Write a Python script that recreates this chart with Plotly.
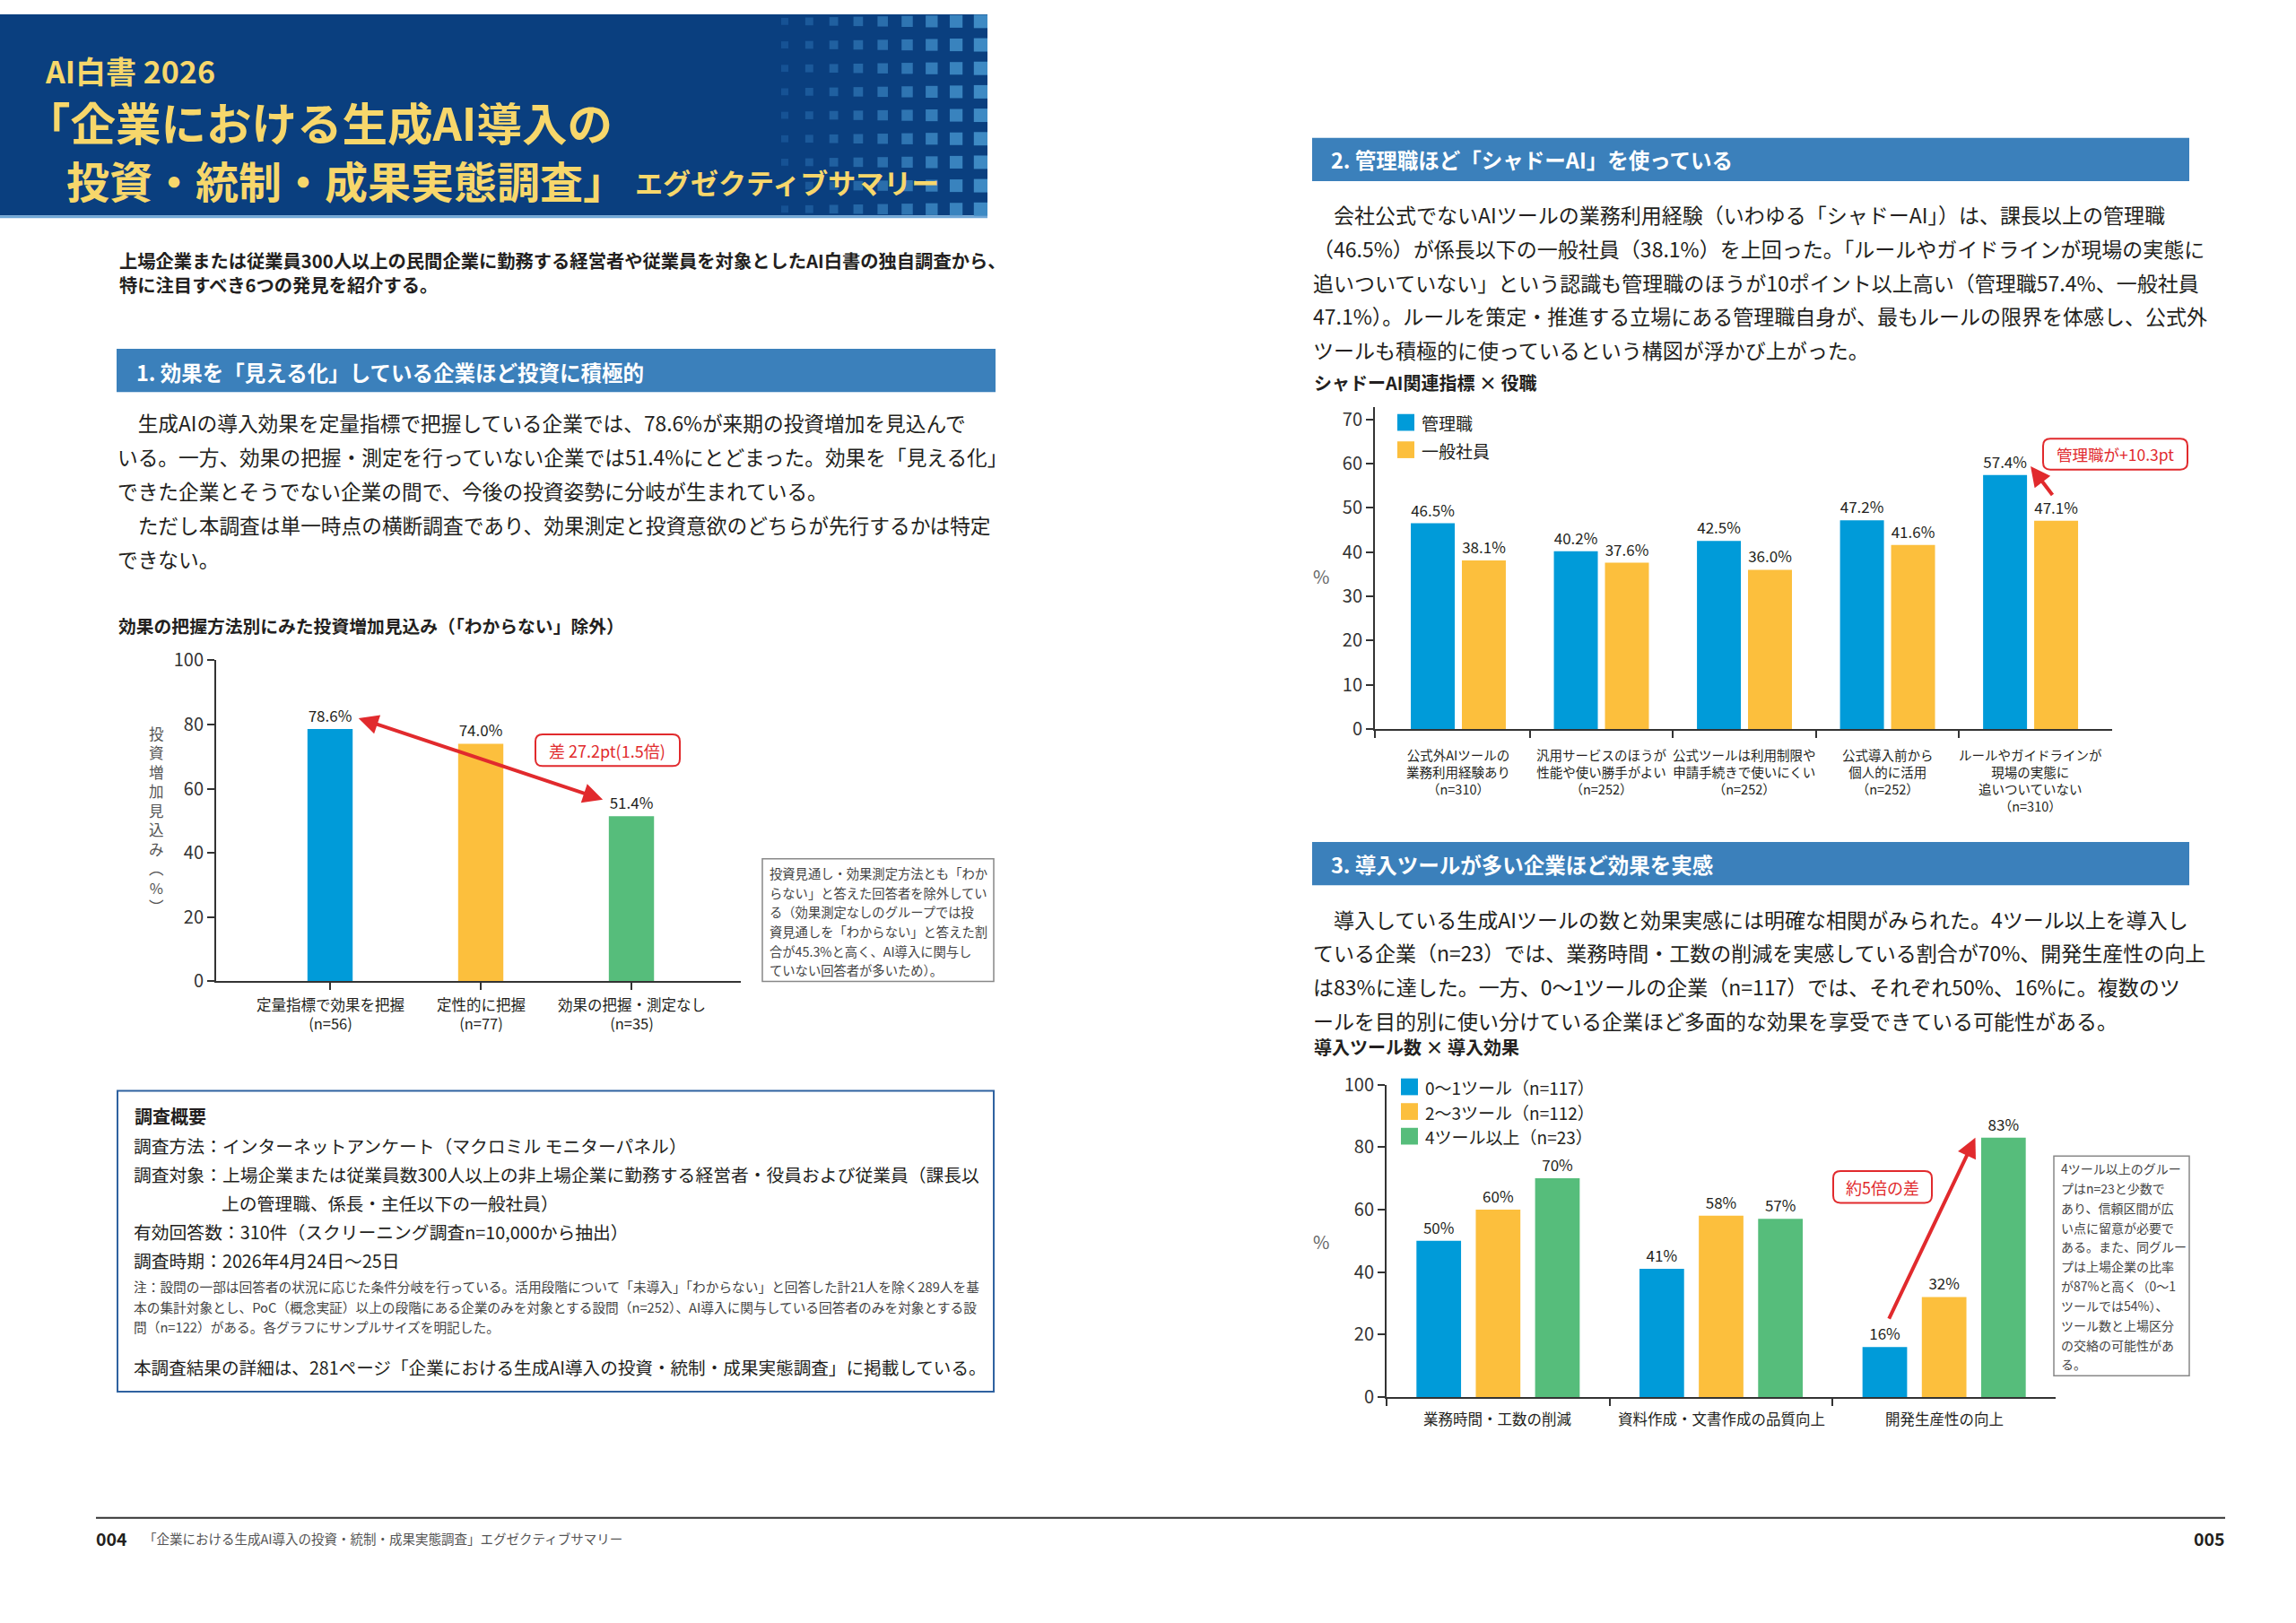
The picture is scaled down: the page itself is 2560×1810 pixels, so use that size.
import plotly.graph_objects as go

W, H = 2560, 1810
FONT = "Noto Sans CJK JP"

NAVY = "#0a3f7f"
HEAD_BAR = "#3b80bb"
TITLE_YELLOW = "#f7d76b"
C_BLUE = "#009bd9"
C_YELLOW = "#fcbf3d"
C_GREEN = "#56bd7b"
C_RED = "#e12a2d"
TXT = "#231f20"

# ---- chart 1: 効果の把握方法別にみた投資増加見込み
c1_labels = ["定量指標で効果を把握", "定性的に把握", "効果の把握・測定なし"]
c1_n = [56, 77, 35]
c1_values = [78.6, 74.0, 51.4]

# ---- chart 2: シャドーAI関連指標 × 役職
c2_labels = [
    "公式外AIツールの<br>業務利用経験あり",
    "汎用サービスのほうが<br>性能や使い勝手がよい",
    "公式ツールは利用制限や<br>申請手続きで使いにくい",
    "公式導入前から<br>個人的に活用",
    "ルールやガイドラインが<br>現場の実態に<br>追いついていない",
]
c2_n = [310, 252, 252, 252, 310]
c2_series = ["管理職", "一般社員"]
c2_manager = [46.5, 40.2, 42.5, 47.2, 57.4]
c2_staff = [38.1, 37.6, 36.0, 41.6, 47.1]

# ---- chart 3: 導入ツール数 × 導入効果
c3_labels = ["業務時間・工数の削減", "資料作成・文書作成の品質向上", "開発生産性の向上"]
c3_series = ["0～1ツール（n=117）", "2～3ツール（n=112）", "4ツール以上（n=23）"]
c3_tools01 = [50, 41, 16]
c3_tools23 = [60, 58, 32]
c3_tools4 = [70, 57, 83]


def X(px):
    return px / W


def Y(py):
    return 1 - py / H


shapes = []
annots = []


def rect(x0, y0, x1, y1, fill=None, line=None, lw=0, layer="below"):
    shapes.append(dict(type="rect", xref="paper", yref="paper",
                       x0=X(x0), x1=X(x1), y0=Y(y1), y1=Y(y0),
                       fillcolor=fill or "rgba(0,0,0,0)",
                       line=dict(color=line or "rgba(0,0,0,0)", width=lw),
                       layer=layer))


def rrect(x0, y0, x1, y1, r, line, lw=2):
    p = (f"M {X(x0 + r)},{Y(y0)} L {X(x1 - r)},{Y(y0)} Q {X(x1)},{Y(y0)} {X(x1)},{Y(y0 + r)} "
         f"L {X(x1)},{Y(y1 - r)} Q {X(x1)},{Y(y1)} {X(x1 - r)},{Y(y1)} "
         f"L {X(x0 + r)},{Y(y1)} Q {X(x0)},{Y(y1)} {X(x0)},{Y(y1 - r)} "
         f"L {X(x0)},{Y(y0 + r)} Q {X(x0)},{Y(y0)} {X(x0 + r)},{Y(y0)} Z")
    shapes.append(dict(type="path", xref="paper", yref="paper", path=p,
                       fillcolor="white", line=dict(color=line, width=lw), layer="above"))


def text(x, y, s, size, color=TXT, bold=False, anchor="left", yanchor="middle"):
    annots.append(dict(xref="paper", yref="paper", x=X(x), y=Y(y),
                       text=f"<b>{s}</b>" if bold else s, showarrow=False,
                       xanchor=anchor, yanchor=yanchor, align="left",
                       font=dict(size=size, color=color, family=FONT)))


def lines(items, x, y0, pitch, size, color=TXT, bold=False):
    for i, s in enumerate(items):
        text(x, y0 + i * pitch, s, size, color, bold)


# ---------------- header ----------------
rect(0, 0, 1101, 228, fill=NAVY)
rect(0, 228, 1101, 231, fill="#6fa6d6")
for i in range(9):
    side = 8 + i * 0.9
    cx = 875 + 27.3 * i
    r = int(22 + i * 5)
    g = int(82 + i * 7)
    b = int(148 + i * 6)
    for j in range(9):
        cy = 8 + 26.6 * j
        rect(cx - side / 2, max(cy - side / 2, 0), min(cx + side / 2, 1101), cy + side / 2,
             fill=f"rgb({r},{g},{b})")

text(48, 64, "AI白書 2026", 34, TITLE_YELLOW, bold=True)
text(26, 121, "「企業における生成AI導入の", 50.5, TITLE_YELLOW, bold=True)
text(72, 187, "投資・統制・成果実態調査」", 48, TITLE_YELLOW, bold=True)
text(706, 190, "エグゼクティブサマリー", 31, TITLE_YELLOW, bold=True)

lines(["上場企業または従業員300人以上の民間企業に勤務する経営者や従業員を対象としたAI白書の独自調査から、",
       "特に注目すべき6つの発見を紹介する。"], 131, 278, 28, 20.3, bold=True)

# ---------------- section 1 ----------------
rect(130, 379, 1110, 428, fill=HEAD_BAR)
text(150, 405, "1. 効果を「見える化」している企業ほど投資に積極的", 23.5, "white", bold=True)
lines(["　生成AIの導入効果を定量指標で把握している企業では、78.6%が来期の投資増加を見込んで",
       "いる。一方、効果の把握・測定を行っていない企業では51.4%にとどまった。効果を「見える化」",
       "できた企業とそうでない企業の間で、今後の投資姿勢に分岐が生まれている。",
       "　ただし本調査は単一時点の横断調査であり、効果測定と投資意欲のどちらが先行するかは特定",
       "できない。"], 129, 463, 38.5, 22.7)
text(130, 693, "効果の把握方法別にみた投資増加見込み（「わからない」除外）", 19.8, bold=True)

# vertical (upright, stacked) axis title of chart 1
annots.append(dict(xref="paper", yref="paper", x=X(174), y=Y(913), xanchor="center",
                   yanchor="middle", showarrow=False, align="center",
                   text="<br>".join("投資増加見込み︵%︶"),
                   font=dict(size=16.5, color="#555", family=FONT)))

for k, lab in enumerate(c1_labels):
    annots.append(dict(xref="x", yref="paper", x=k, y=Y(1108), yanchor="top",
                       text=f"{lab}<br>(n={c1_n[k]})", showarrow=False,
                       font=dict(size=16.5, color=TXT, family=FONT)))

# double arrow + callout
annots.append(dict(xref="x", yref="y", x=1.81, y=c1_values[2] + 5.2,
                   axref="x", ayref="y", ax=0.18, ay=c1_values[0] + 3.5, text="",
                   showarrow=True, arrowhead=2, startarrowhead=2, arrowside="end+start",
                   arrowsize=1.1, startarrowsize=1.1, arrowwidth=4, arrowcolor=C_RED))
rrect(597, 816, 758, 852, 8, C_RED)
text(677, 834, "差 27.2pt(1.5倍)", 18, C_RED, anchor="center")

rect(850, 957, 1108, 1096, line="#888", lw=1.5)
lines(["投資見通し・効果測定方法とも「わか",
       "らない」と答えた回答者を除外してい",
       "る（効果測定なしのグループでは投",
       "資見通しを「わからない」と答えた割",
       "合が45.3%と高く、AI導入に関与し",
       "ていない回答者が多いため）。"], 856, 973, 22, 14.3, "#444")

# ---------------- survey box ----------------
rect(131, 1220, 1108, 1561, line="#2f62a0", lw=2)
text(148, 1248, "調査概要", 20, bold=True)
lines(["調査方法：インターネットアンケート（マクロミル モニターパネル）",
       "調査対象：上場企業または従業員数300人以上の非上場企業に勤務する経営者・役員および従業員（課長以"],
      147, 1282, 33, 19.8)
text(245, 1347, "上の管理職、係長・主任以下の一般社員）", 19.8)
lines(["有効回答数：310件（スクリーニング調査n=10,000から抽出）",
       "調査時期：2026年4月24日～25日"], 147, 1380, 32, 19.8)
lines(["注：設問の一部は回答者の状況に応じた条件分岐を行っている。活用段階について「未導入」「わからない」と回答した計21人を除く289人を基",
       "本の集計対象とし、PoC（概念実証）以上の段階にある企業のみを対象とする設問（n=252）、AI導入に関与している回答者のみを対象とする設",
       "問（n=122）がある。各グラフにサンプルサイズを明記した。"], 147, 1442, 22.5, 14.7, "#444")
text(147, 1533, "本調査結果の詳細は、281ページ「企業における生成AI導入の投資・統制・成果実態調査」に掲載している。", 19.6)

# ---------------- section 2 ----------------
rect(1463, 140, 2441, 189, fill=HEAD_BAR)
text(1482, 165, "2. 管理職ほど「シャドーAI」を使っている", 23.5, "white", bold=True)
lines(["　会社公式でないAIツールの業務利用経験（いわゆる「シャドーAI」）は、課長以上の管理職",
       "（46.5%）が係長以下の一般社員（38.1%）を上回った。「ルールやガイドラインが現場の実態に",
       "追いついていない」という認識も管理職のほうが10ポイント以上高い（管理職57.4%、一般社員",
       "47.1%）。ルールを策定・推進する立場にある管理職自身が、最もルールの限界を体感し、公式外",
       "ツールも積極的に使っているという構図が浮かび上がった。"], 1462, 227, 38.3, 23)
text(1463, 417, "シャドーAI関連指標 × 役職", 20, bold=True)
text(1473, 637, "%", 20, "#666", anchor="center")

for k, (nm, col) in enumerate(zip(c2_series, [C_BLUE, C_YELLOW])):
    rect(1558, 453 + 31 * k, 1577, 472 + 31 * k, fill=col)
    text(1583, 463 + 31 * k, nm, 19)

for k, lab in enumerate(c2_labels):
    annots.append(dict(xref="x2", yref="paper", x=k, y=Y(826), yanchor="top",
                       text=f"{lab}<br>（n={c2_n[k]}）", showarrow=False,
                       font=dict(size=14.5, color=TXT, family=FONT)))

annots.append(dict(xref="x2", yref="y2", x=4.0, y=c2_manager[4] + 2.0,
                   axref="x2", ayref="y2", ax=4.16, ay=c2_staff[4] + 5.5, text="",
                   showarrow=True, arrowhead=2, arrowsize=1.1, arrowwidth=4, arrowcolor=C_RED))
rrect(2278, 481, 2439, 516, 8, C_RED)
text(2358, 498, "管理職が+10.3pt", 17.5, C_RED, anchor="center")

# ---------------- section 3 ----------------
rect(1463, 938, 2441, 987, fill=HEAD_BAR)
text(1482, 963, "3. 導入ツールが多い企業ほど効果を実感", 23.5, "white", bold=True)
lines(["　導入している生成AIツールの数と効果実感には明確な相関がみられた。4ツール以上を導入し",
       "ている企業（n=23）では、業務時間・工数の削減を実感している割合が70%、開発生産性の向上",
       "は83%に達した。一方、0～1ツールの企業（n=117）では、それぞれ50%、16%に。複数のツ",
       "ールを目的別に使い分けている企業ほど多面的な効果を享受できている可能性がある。"],
      1462, 1025, 38.3, 23)
text(1463, 1170, "導入ツール数 × 導入効果", 20, bold=True)
text(1473, 1391, "%", 20, "#666", anchor="center")

for k, (nm, col) in enumerate(zip(c3_series, [C_BLUE, C_YELLOW, C_GREEN])):
    rect(1562, 1206 + 28 * k, 1581, 1225 + 28 * k, fill=col)
    text(1587, 1216 + 28 * k, nm, 19)

for k, lab in enumerate(c3_labels):
    annots.append(dict(xref="x3", yref="paper", x=k, y=Y(1592), yanchor="middle",
                       text=lab, showarrow=False,
                       font=dict(size=16.5, color=TXT, family=FONT)))

annots.append(dict(xref="x3", yref="y3", x=2.14, y=c3_tools4[2],
                   axref="x3", ayref="y3", ax=1.75, ay=c3_tools01[2] + 8.6, text="",
                   showarrow=True, arrowhead=2, arrowsize=1.1, arrowwidth=4, arrowcolor=C_RED))
rrect(2044, 1311, 2154, 1347, 8, C_RED)
text(2099, 1329, "約5倍の差", 18, C_RED, anchor="center")

rect(2290, 1294, 2441, 1543, line="#888", lw=1.5)
lines(["4ツール以上のグルー", "プはn=23と少数で", "あり、信頼区間が広", "い点に留意が必要で",
       "ある。また、同グルー", "プは上場企業の比率", "が87%と高く（0～1", "ツールでは54%）、",
       "ツール数と上場区分", "の交絡の可能性があ", "る。"], 2296, 1308, 22.2, 14, "#444")

# ---------------- footer ----------------
shapes.append(dict(type="line", xref="paper", yref="paper", x0=X(107), x1=X(2481),
                   y0=Y(1704), y1=Y(1704), line=dict(color="#333", width=2)))
text(105, 1727, "004", 19.5, bold=True)
text(158, 1727, "「企業における生成AI導入の投資・統制・成果実態調査」エグゼクティブサマリー", 14.5, "#555")
text(2483, 1727, "005", 19.5, bold=True, anchor="right")

# ---------------- bars ----------------
fig = go.Figure()

fig.add_trace(go.Bar(
    x=list(range(len(c1_values))), y=c1_values, width=0.30,
    marker=dict(color=[C_BLUE, C_YELLOW, C_GREEN], line=dict(width=0)),
    text=[f"{v:.1f}%" for v in c1_values], textposition="outside",
    textfont=dict(size=17, color=TXT, family=FONT), cliponaxis=False, constraintext="none",
    xaxis="x", yaxis="y", showlegend=False, hoverinfo="skip"))

for vals, col, off in [(c2_manager, C_BLUE, -0.332), (c2_staff, C_YELLOW, 0.025)]:
    fig.add_trace(go.Bar(
        x=list(range(len(vals))), y=vals, width=0.307, offset=off,
        marker=dict(color=col, line=dict(width=0)),
        text=[f"{v:.1f}%" for v in vals], textposition="outside",
        textfont=dict(size=17, color=TXT, family=FONT), cliponaxis=False, constraintext="none",
        xaxis="x2", yaxis="y2", showlegend=False, hoverinfo="skip"))

for vals, col, off in [(c3_tools01, C_BLUE, -0.366), (c3_tools23, C_YELLOW, -0.1), (c3_tools4, C_GREEN, 0.166)]:
    fig.add_trace(go.Bar(
        x=list(range(len(vals))), y=vals, width=0.2, offset=off,
        marker=dict(color=col, line=dict(width=0)),
        text=[f"{v}%" for v in vals], textposition="outside",
        textfont=dict(size=17, color=TXT, family=FONT), cliponaxis=False, constraintext="none",
        xaxis="x3", yaxis="y3", showlegend=False, hoverinfo="skip"))

ax = dict(showgrid=False, zeroline=False, showline=True, linecolor="#333", linewidth=2,
          ticks="outside", tickcolor="#333", tickwidth=1.5, ticklen=8,
          tickfont=dict(size=20, color="#333", family=FONT), fixedrange=True)

fig.update_layout(
    width=W, height=H, autosize=False,
    margin=dict(l=0, r=0, t=0, b=0),
    paper_bgcolor="white", plot_bgcolor="rgba(0,0,0,0)",
    font=dict(family=FONT, color=TXT),
    barmode="overlay",
    xaxis=dict(domain=[X(241), X(826)], range=[-0.756, 2.726], tickvals=[0, 1, 2],
               showticklabels=False, anchor="y", **ax),
    yaxis=dict(domain=[Y(1096), Y(732)], range=[0, 100], dtick=20, anchor="x", **ax),
    xaxis2=dict(domain=[X(1533), X(2355)], range=[-0.583, 4.57],
                tickvals=[-0.58, 0.5, 1.5, 2.5, 3.5], showticklabels=False, anchor="y2", **ax),
    yaxis2=dict(domain=[Y(810), Y(445)], range=[0, 72.8], tickvals=list(range(0, 71, 10)),
                anchor="x2", **ax),
    xaxis3=dict(domain=[X(1546), X(2292)], range=[-0.5, 2.5], tickvals=[-0.5, 0.5, 1.5],
                showticklabels=False, anchor="y3", **ax),
    yaxis3=dict(domain=[Y(1567), Y(1213)], range=[0, 100], dtick=20, anchor="x3", **ax),
    shapes=shapes,
    annotations=annots,
)

pin_to_corner = (
    "document.documentElement.style.margin='0';"
    "document.body.style.margin='0';document.body.style.padding='0';"
    "document.body.style.overflow='hidden';"
    "var gd=document.getElementById('{plot_id}');"
    "gd.style.position='fixed';gd.style.left='0px';gd.style.top='0px';"
)
fig.write_html("out.html", config={"displayModeBar": False}, post_script=pin_to_corner)
